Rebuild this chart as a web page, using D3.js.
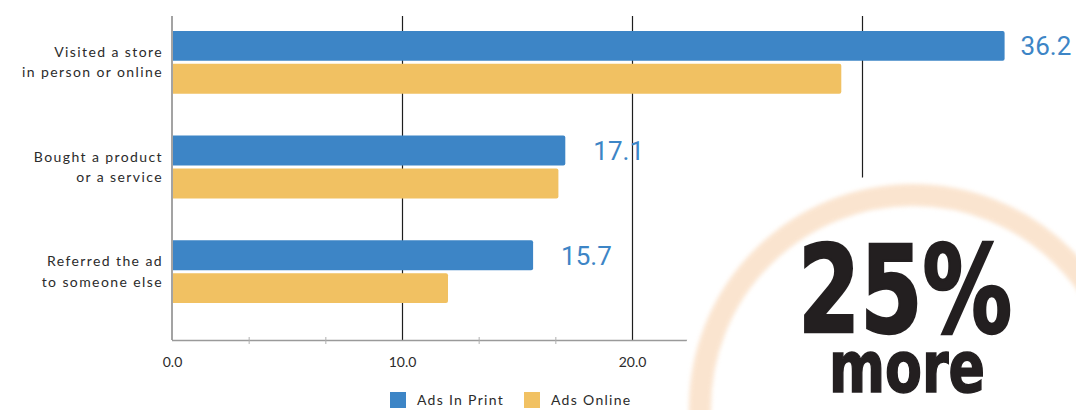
<!DOCTYPE html>
<html>
<head>
<meta charset="utf-8">
<script src="https://cdn.jsdelivr.net/npm/d3@7"></script>
<style>
  html, body { margin: 0; padding: 0; background: #fff; }
  svg { display: block; }
  .cat { font-family: Lato, "Open Sans", sans-serif; font-size: 14px; letter-spacing: 1.4px; fill: #2b2b2b; }
  .tick-label { font-family: Lato, "Open Sans", sans-serif; font-size: 14px; fill: #2b2b2b; }
  .value { font-family: Roboto, sans-serif; font-weight: 400; font-size: 26px; fill: #3d85c6; }
  .legend { font-family: Lato, "Open Sans", sans-serif; font-size: 14px; letter-spacing: 1.3px; fill: #2b2b2b; }
  .big { font-family: "Liberation Sans Narrow", "DejaVu Sans Condensed", "DejaVu Sans", sans-serif; font-weight: 700; fill: #231f20; stroke: #231f20; }
</style>
</head>
<body>
<svg id="chart" width="1076" height="410"></svg>
<script>
// Survey responses: share of readers who acted after seeing an ad
const categories = [
  ["Visited a store", "in person or online"],
  ["Bought a product", "or a service"],
  ["Referred the ad", "to someone else"]
];
const seriesNames = ["Ads In Print", "Ads Online"];
const printValues = [36.2, 17.1, 15.7];
const onlineValues = [29.1, 16.8, 12.0];
const majorTicks = [0, 10, 20, 30];
const labelledTicks = [0, 10, 20];
const calloutLines = ["25%", "more"];

const colors = { "Ads In Print": "#3d85c6", "Ads Online": "#f1c162" };

const svg = d3.select("#chart");
const plotLeft = 172, plotTop = 16, plotBottom = 340;

const x = d3.scaleLinear().domain([0, 40]).range([plotLeft, plotLeft + 920]);
const catKeys = categories.map(c => c.join(" "));
const y0 = d3.scaleBand().domain(catKeys).range([10, 324]).paddingInner(0.4).paddingOuter(0.2);
const y1 = d3.scaleBand().domain(seriesNames).range([0, y0.bandwidth()]).paddingInner(0.09);

const rows = catKeys.map((k, i) => ({
  key: k,
  lines: categories[i],
  values: [
    { series: seriesNames[0], value: printValues[i] },
    { series: seriesNames[1], value: onlineValues[i] }
  ]
}));

// vertical grid lines at major ticks
const grid = svg.append("g")
  .attr("transform", `translate(0,${plotBottom})`)
  .call(d3.axisBottom(x).tickValues(majorTicks.filter(d => d > 0)).tickSize(-(plotBottom - plotTop)).tickFormat(""));
grid.select(".domain").remove();
grid.selectAll("line").attr("stroke", "#1e1e1e").attr("stroke-width", 1.2);

// bottom axis line with minor ticks
const minor = [];
for (let i = 0; i < 12; i++) if (i % 3 !== 0) minor.push(i * 10 / 3);
const xAxis = svg.append("g")
  .attr("transform", `translate(0,${plotBottom})`)
  .call(d3.axisBottom(x).tickValues(minor).tickSize(4).tickFormat(""));
xAxis.select(".domain").attr("stroke", "#9a9a9a").attr("stroke-width", 1.3)
  .attr("d", `M${plotLeft},0.5H${x(40)}`);
xAxis.selectAll(".tick line").attr("stroke", "#b0b0b0").attr("y1", -3).attr("y2", 4);

// tick labels
const labels = svg.append("g")
  .attr("transform", `translate(0,${plotBottom + 14})`)
  .call(d3.axisBottom(x).tickValues(labelledTicks).tickSize(0).tickFormat(d3.format(".1f")));
labels.select(".domain").remove();
labels.selectAll("text").attr("class", "tick-label").attr("font-size", null).attr("font-family", null).attr("fill", null);

// left axis line
svg.append("line")
  .attr("x1", plotLeft).attr("x2", plotLeft)
  .attr("y1", plotTop).attr("y2", plotBottom)
  .attr("stroke", "#8c8c8c").attr("stroke-width", 1.6);

// bars
const groups = svg.append("g").selectAll("g").data(rows).join("g")
  .attr("transform", d => `translate(0,${y0(d.key)})`);

groups.selectAll("path").data(d => d.values).join("path")
  .attr("fill", d => colors[d.series])
  .attr("d", d => {
    const x0 = x(0) + 1, x1 = x(d.value), yt = y1(d.series), h = y1.bandwidth(), r = 2;
    return `M${x0},${yt}H${x1 - r}Q${x1},${yt} ${x1},${yt + r}V${yt + h - r}Q${x1},${yt + h} ${x1 - r},${yt + h}H${x0}Z`;
  });

// value labels for print bars (pulled in closer near the right edge)
groups.append("text")
  .attr("class", "value")
  .attr("x", d => {
    const end = x(d.values[0].value);
    return end > 990 ? end + 16 : end + 28;
  })
  .attr("y", d => y1(seriesNames[0]) + y1.bandwidth() / 2)
  .attr("dy", "0.36em")
  .text(d => d3.format(".1f")(d.values[0].value));

// category labels
const catText = groups.append("text")
  .attr("class", "cat")
  .attr("text-anchor", "end")
  .attr("x", plotLeft - 9)
  .attr("y", y0.bandwidth() / 2);
catText.selectAll("tspan").data(d => d.lines).join("tspan")
  .attr("x", plotLeft - 9)
  .attr("dy", (d, i) => i === 0 ? "-0.38em" : "1.45em")
  .text(d => d);

// legend
const legend = svg.append("g").attr("transform", "translate(390,392)");
const legendItems = legend.selectAll("g").data(seriesNames).join("g")
  .attr("transform", (d, i) => `translate(${i * 134},0)`);
legendItems.append("rect").attr("width", 16).attr("height", 16).attr("fill", d => colors[d]);
legendItems.append("text").attr("class", "legend").attr("x", 27).attr("y", 13).text(d => d);

// callout badge: white disc with soft peach ring
const defs = svg.append("defs");
const f = defs.append("filter").attr("id", "soft").attr("x", "-10%").attr("y", "-10%").attr("width", "120%").attr("height", "120%");
f.append("feGaussianBlur").attr("stdDeviation", 2);

const cx = 913, cy = 408;
svg.append("circle").attr("cx", cx).attr("cy", cy).attr("r", 236).attr("fill", "#fff");
svg.append("circle").attr("cx", cx).attr("cy", cy).attr("r", 213)
  .attr("fill", "none").attr("stroke", "#f9dcc0").attr("stroke-width", 22)
  .attr("opacity", 0.75).attr("filter", "url(#soft)");

// condensed heavy headline, squeezed to its set width
svg.append("text").attr("class", "big")
  .attr("x", 798).attr("y", 332)
  .attr("font-size", 122).attr("stroke-width", 2.5)
  .attr("textLength", 214).attr("lengthAdjust", "spacingAndGlyphs")
  .text(calloutLines[0]);
svg.append("text").attr("class", "big")
  .attr("x", 829).attr("y", 392)
  .attr("font-size", 72).attr("stroke-width", 1.5)
  .attr("textLength", 156).attr("lengthAdjust", "spacingAndGlyphs")
  .text(calloutLines[1]);
</script>
</body>
</html>
